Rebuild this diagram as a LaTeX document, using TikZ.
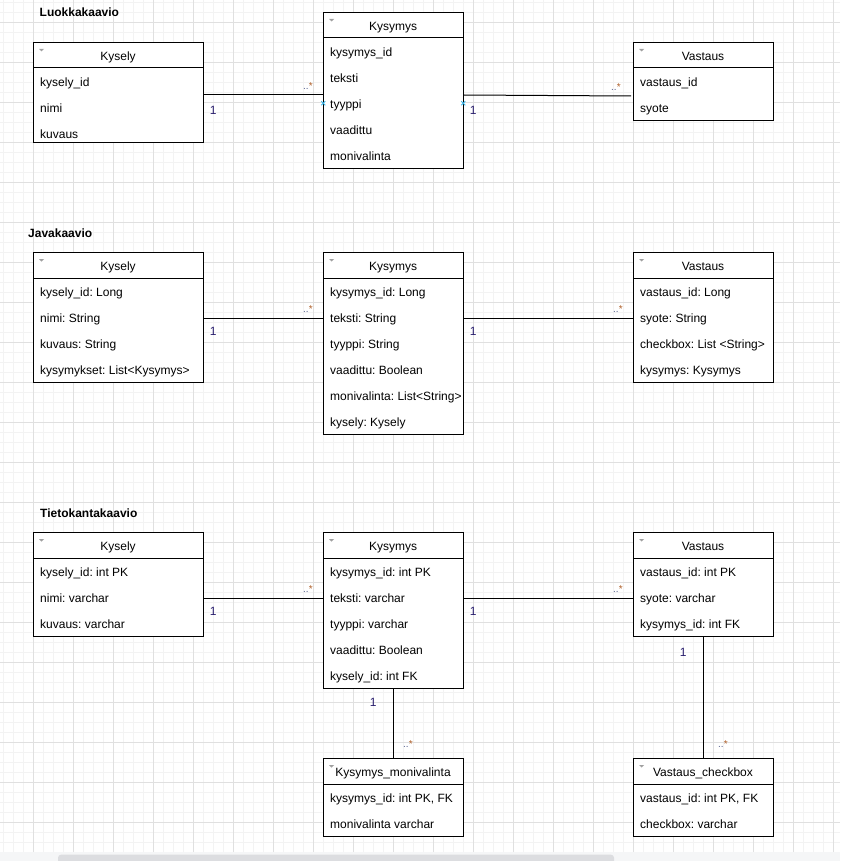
\documentclass[tikz,border=0pt]{standalone}
\usepackage{fontspec}
\setmainfont{Liberation Sans}
\frenchspacing
\definecolor{gmin}{HTML}{F3F3F3}
\definecolor{gmaj}{HTML}{E0E0E0}
\definecolor{scrollbg}{HTML}{F5F6F7}
\definecolor{thumb}{HTML}{DCDDE0}
\definecolor{onecol}{HTML}{2A1F6E}
\definecolor{dotcol}{HTML}{5A6490}
\definecolor{starcol}{HTML}{B0602A}
\definecolor{mark}{HTML}{3DB8EA}
\definecolor{tricol}{HTML}{A0A0A0}
\newcommand{\umlcls}[7]{%
  \node[clsbox, minimum width={#4-#2}, minimum height={#5-#3}, anchor=north west] (#1) at (#2,#3) {};
  \draw[clsline] (#2,#3+26) -- (#4,#3+26);
  \fill[tricol] (#2+6,#3+7) -- (#2+11,#3+7) -- (#2+8.5,#3+9.5) -- cycle;
  \node[clstitle] (#1-t) at ({(#2+#4)/2},#3+18.5) {#6};
  \foreach \r [count=\i] in {#7} \node[clsattr] (#1-\i) at (#2+7,#3+18.5+26*\i) {\r};
}
\newcommand{\manylabel}[3]{\node[mult] (#1) at (#2,#3) {\textcolor{dotcol}{..}\textcolor{starcol}{*}};}
\begin{document}
\begin{tikzpicture}[x=1pt,y=-1pt,
  clsbox/.style={draw=black, line width=1pt, fill=white, inner sep=0pt},
  clsline/.style={draw=black, line width=1pt},
  clstitle/.style={anchor=base, inner sep=0pt, font=\fontsize{12}{14}\selectfont\frenchspacing},
  clsattr/.style={anchor=base west, inner sep=0pt, font=\fontsize{12}{14}\selectfont\frenchspacing},
  sectitle/.style={anchor=base west, inner sep=0pt, font=\fontsize{12}{14}\selectfont\bfseries},
  one/.style={anchor=center, inner sep=0pt, text=onecol, font=\fontsize{12}{14}\selectfont},
  mult/.style={anchor=base west, inner sep=0pt, font=\fontsize{10}{12}\selectfont},
  assoc/.style={draw=black, line width=1pt},
  cmark/.style={draw=mark, line width=0.9pt}
]
\useasboundingbox (0,0) rectangle (840,861);
\clip (0,0) rectangle (840,861);
\fill[white] (0,0) rectangle (840,861);
% grid
\foreach \i in {0,...,83} \draw[gmin, line width=1pt] (3.3+10*\i,0) -- (3.3+10*\i,851.7);
\foreach \i in {0,...,84} \draw[gmin, line width=1pt] (0,2.3+10*\i) -- (840,2.3+10*\i);
\foreach \i in {0,...,20} \draw[gmaj, line width=1pt] (33.3+40*\i,0) -- (33.3+40*\i,851.7);
\foreach \i in {0,...,20} \draw[gmaj, line width=1pt] (0,22.3+40*\i) -- (840,22.3+40*\i);
% scrollbar
\fill[scrollbg] (0,851.7) rectangle (840,861);
\fill[thumb, rounded corners=3pt] (58,854.7) rectangle (614,866);

% section titles
\node[sectitle] (t1) at (39.5,17) {Luokkakaavio};
\node[sectitle] (t2) at (28,237) {Javakaavio};
\node[sectitle] (t3) at (40,517) {Tietokantakaavio};

% Luokkakaavio
\umlcls{ky1}{33}{42}{203}{142}{Kysely}{kysely\_id,nimi,kuvaus}
\umlcls{kq1}{323}{12}{463}{168}{Kysymys}{kysymys\_id,teksti,tyyppi,vaadittu,monivalinta}
\umlcls{va1}{633}{42}{773}{120}{Vastaus}{vastaus\_id,syote}

% Javakaavio
\umlcls{ky2}{33}{252}{203}{382}{Kysely}{{kysely\_id: Long},{nimi: String},{kuvaus: String},{kysymykset: List<Kysymys>}}
\umlcls{kq2}{323}{252}{463}{434}{Kysymys}{{kysymys\_id: Long},{teksti: String},{tyyppi: String},{vaadittu: Boolean},{monivalinta: List<String>},{kysely: Kysely}}
\umlcls{va2}{633}{252}{773}{382}{Vastaus}{{vastaus\_id: Long},{syote: String},{checkbox: List <String>},{kysymys: Kysymys}}

% Tietokantakaavio
\umlcls{ky3}{33}{532}{203}{636}{Kysely}{{kysely\_id: int PK},{nimi: varchar},{kuvaus: varchar}}
\umlcls{kq3}{323}{532}{463}{688}{Kysymys}{{kysymys\_id: int PK},{teksti: varchar},{tyyppi: varchar},{vaadittu: Boolean},{kysely\_id: int FK}}
\umlcls{va3}{633}{532}{773}{636}{Vastaus}{{vastaus\_id: int PK},{syote: varchar},{kysymys\_id: int FK}}
\umlcls{km3}{323}{758}{463}{836}{Kysymys\_monivalinta}{{kysymys\_id: int PK, FK},{monivalinta varchar}}
\umlcls{vc3}{633}{758}{773}{836}{Vastaus\_checkbox}{{vastaus\_id: int PK, FK},{checkbox: varchar}}

% connectors: Luokkakaavio
\coordinate (c2end) at ([xshift=-2pt,yshift=-54pt]va1.north west);
\draw[assoc] ([yshift=-53pt]ky1.north east) -- ([yshift=-83pt]kq1.north west);
\draw[assoc] ([yshift=-83pt]kq1.north east) -- (c2end);
\node[one] (o1) at (213.3,110.5) {1};
\manylabel{m1}{303}{89.5}
\node[one] (o2) at (473.3,110.5) {1};
\manylabel{m2}{611}{90.5}
\draw[cmark] (321.3,101.3) -- (325.3,105.3) (321.3,105.3) -- (325.3,101.3);
\draw[cmark] (461.3,101.3) -- (465.3,105.3) (461.3,105.3) -- (465.3,101.3);

% connectors: Javakaavio
\draw[assoc] ([yshift=-66pt]ky2.north east) -- ([yshift=-66pt]kq2.north west);
\draw[assoc] ([yshift=-66pt]kq2.north east) -- ([yshift=-66pt]va2.north west);
\node[one] (o3) at (213.3,331.5) {1};
\manylabel{m3}{303}{312.5}
\node[one] (o4) at (473.3,331.5) {1};
\manylabel{m4}{613}{312.5}

% connectors: Tietokantakaavio
\draw[assoc] ([yshift=-66pt]ky3.north east) -- ([yshift=-66pt]kq3.north west);
\draw[assoc] ([yshift=-66pt]kq3.north east) -- ([yshift=-66pt]va3.north west);
\node[one] (o5) at (213.3,611.5) {1};
\manylabel{m5}{303}{592.5}
\node[one] (o6) at (473.3,611.5) {1};
\manylabel{m6}{613}{592.5}
\draw[assoc] (kq3.south) -- (km3.north);
\draw[assoc] (va3.south) -- (vc3.north);
\node[one] (o7) at (373.3,702.7) {1};
\manylabel{m7}{403}{747.5}
\node[one] (o8) at (683.3,652.7) {1};
\manylabel{m8}{718}{747.5}
\end{tikzpicture}
\end{document}
